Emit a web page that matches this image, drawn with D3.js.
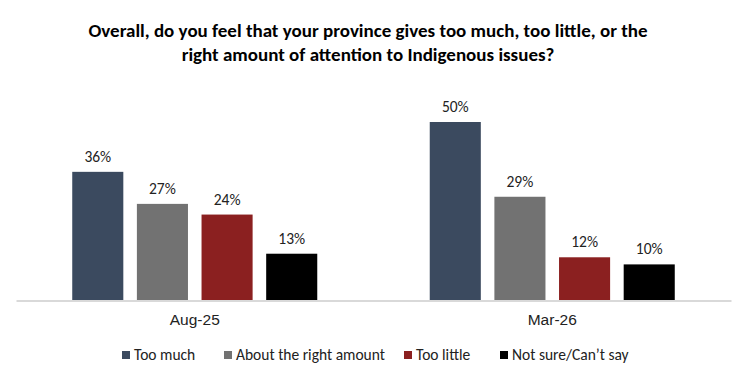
<!DOCTYPE html>
<html>
<head>
<meta charset="utf-8">
<script src="https://cdn.jsdelivr.net/npm/d3@7"></script>
<style>
  body { margin: 0; background: #fff; }
  svg { display: block; font-family: Carlito, Lato, "Liberation Sans", sans-serif; }
</style>
</head>
<body>
<div class="graph"></div>
<script>
// chart data
const periods = ["Aug-25", "Mar-26"];
const answers = ["Too much", "About the right amount", "Too little", "Not sure/Can\u2019t say"];
const tooMuch = [36, 50];
const rightAmount = [27, 29];
const tooLittle = [24, 12];
const notSure = [13, 10];
const colors = ["#3b4a5f", "#727272", "#8b2020", "#000000"];
const titleLines = [
  "Overall, do you feel that your province gives too much, too little, or the",
  "right amount of attention to Indigenous issues?"
];

const seriesValues = [tooMuch, rightAmount, tooLittle, notSure];

var width = 735, height = 384;
var margin = {top: 0, right: 4, bottom: 84, left: 16};
var baseY = height - margin.bottom; // 300

const svg = d3.select(".graph")
  .append("svg")
  .attr("width", width)
  .attr("height", height);

// title
svg.append("g")
  .selectAll("text")
  .data(titleLines)
  .join("text")
  .attr("x", 368)
  .attr("y", (d, i) => 37 + i * 24)
  .attr("text-anchor", "middle")
  .attr("font-size", 19)
  .attr("font-weight", "bold")
  .attr("fill", "#000")
  .text(d => d);

var x0 = d3.scaleBand()
  .domain(periods)
  .range([margin.left, width - margin.right]);

var x1 = d3.scaleBand()
  .domain(answers)
  .range([0, x0.bandwidth()])
  .paddingInner(0.21)
  .paddingOuter(0.87);

var y = d3.scaleLinear()
  .domain([0, 50])
  .range([baseY, 122]);

const groups = svg.append("g")
  .selectAll("g")
  .data(periods)
  .join("g")
  .attr("transform", d => "translate(" + x0(d) + ",0)");

groups.selectAll("rect")
  .data((p, pi) => answers.map((a, ai) => ({answer: a, value: seriesValues[ai][pi], color: colors[ai]})))
  .join("rect")
  .attr("x", d => x1(d.answer))
  .attr("y", d => y(d.value))
  .attr("width", x1.bandwidth())
  .attr("height", d => baseY - y(d.value))
  .attr("fill", d => d.color);

groups.selectAll("text")
  .data((p, pi) => answers.map((a, ai) => ({answer: a, value: seriesValues[ai][pi]})))
  .join("text")
  .attr("x", d => x1(d.answer) + x1.bandwidth() / 2)
  .attr("y", d => y(d.value) - 10)
  .attr("text-anchor", "middle")
  .attr("font-size", 15.5)
  .attr("fill", "#222")
  .text(d => d.value + "%");

// category axis
const xAxis = svg.append("g")
  .attr("transform", "translate(0," + (baseY + 0.5) + ")")
  .call(d3.axisBottom(x0).tickSize(0).tickPadding(13));
xAxis.select(".domain").attr("stroke", "#d9d9d9").attr("stroke-width", 2);
xAxis.selectAll("text")
  .attr("font-size", 15.5)
  .attr("fill", "#222")
  .attr("font-family", null);

// legend
const legendX = [122, 224, 404, 500];
const legend = svg.append("g")
  .selectAll("g")
  .data(answers)
  .join("g")
  .attr("transform", (d, i) => "translate(" + legendX[i] + ",355)");
legend.append("rect")
  .attr("x", 0).attr("y", -4)
  .attr("width", 8).attr("height", 8)
  .attr("fill", (d, i) => colors[i]);
legend.append("text")
  .attr("x", 12)
  .attr("dy", "0.35em")
  .attr("font-size", 15.5)
  .attr("fill", "#222")
  .text(d => d);
</script>
</body>
</html>
